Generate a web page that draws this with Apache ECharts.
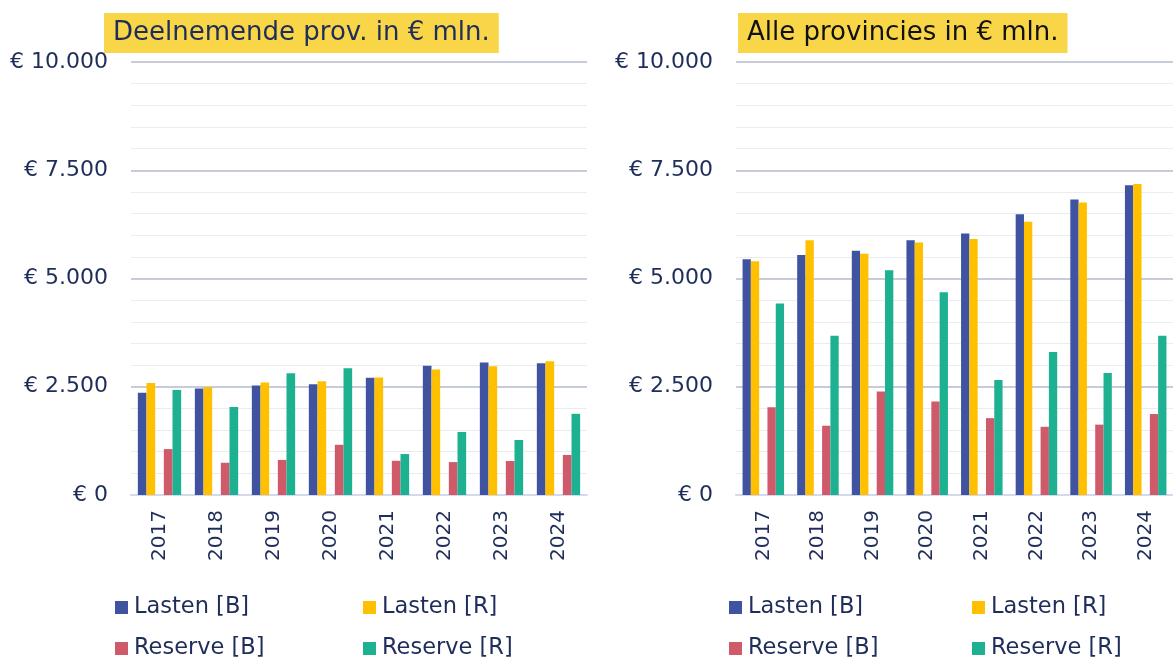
<!DOCTYPE html>
<html>
<head>
<meta charset="utf-8">
<script src="https://cdn.jsdelivr.net/npm/echarts@6/dist/echarts.min.js"></script>
<style>
html,body{margin:0;padding:0;background:#fff;}
#c{width:1173px;height:659px;}
</style>
</head>
<body>
<div id="c"></div>
<script>
const years = ['2017','2018','2019','2020','2021','2022','2023','2024'];
const seriesNames = ['Lasten [B]','Lasten [R]','Reserve [B]','Reserve [R]'];
const yTicks = [0, 2500, 5000, 7500, 10000];

// Deelnemende provincies
const leftLastenB  = [2360, 2460, 2530, 2555, 2710, 2985, 3060, 3040];
const leftLastenR  = [2585, 2490, 2600, 2625, 2715, 2900, 2975, 3090];
const leftReserveB = [1060,  745,  810, 1160,  790,  760,  785,  925];
const leftReserveR = [2425, 2030, 2810, 2925,  945, 1455, 1270, 1875];

// Alle provincies
const rightLastenB  = [5445, 5540, 5640, 5885, 6040, 6485, 6825, 7155];
const rightLastenR  = [5400, 5885, 5570, 5830, 5915, 6310, 6755, 7185];
const rightReserveB = [2025, 1600, 2390, 2160, 1775, 1575, 1625, 1870];
const rightReserveR = [4425, 3675, 5190, 4685, 2655, 3300, 2815, 3675];

const colors = ['#4053a0','#ffc000','#cf5a6a','#1db192'];
const navy = '#1e2d5a';
const FONT = 'DejaVu Sans';

function fmt(v){
  return '€ ' + String(v).replace(/\B(?=(\d{3})+(?!\d))/g, '.');
}

const chart = echarts.init(document.getElementById('c'), null, {renderer:'canvas'});

const grids = [
  {left:131, width:456, top:62, height:433},
  {left:736, width:442, top:62, height:433}
];

function xAxis(i){
  return {
    type:'category', gridIndex:i, data:years,
    axisLine:{show:true, lineStyle:{color:'#d3daee', width:2}},
    axisTick:{show:false},
    axisLabel:{rotate:90, margin:15, color:navy, fontFamily:FONT, fontSize:20}
  };
}
function yAxis(i){
  return {
    type:'value', gridIndex:i, min:yTicks[0], max:yTicks[yTicks.length-1], interval:2500,
    axisLine:{show:false}, axisTick:{show:false},
    axisLabel:{margin:23, color:navy, fontFamily:FONT, fontSize:22, formatter:fmt},
    splitLine:{show:true, lineStyle:{color:'#c6ccd9', width:2}},
    minorTick:{show:false, splitNumber:5},
    minorSplitLine:{show:true, lineStyle:{color:'#eaecf1', width:1}}
  };
}

function bars(i, arrs){
  const out = [];
  const order = [0,1,null,2,3];
  order.forEach(k=>{
    if(k===null){
      out.push({type:'bar', xAxisIndex:i, yAxisIndex:i, name:'gap'+i, data:years.map(()=>'-'), barGap:'0%', barCategoryGap:'24%', silent:true});
    } else {
      out.push({type:'bar', xAxisIndex:i, yAxisIndex:i, name:seriesNames[k], data:arrs[k],
        itemStyle:{color:colors[k]}, barGap:'0%', barCategoryGap:'24%'});
    }
  });
  return out;
}

function legend(name, left, top){
  return {
    data:[name], left:left, top:top, icon:'rect', itemWidth:13, itemHeight:13, itemGap:0,
    padding:0, selectedMode:false,
    textStyle:{color:navy, fontFamily:FONT, fontSize:22.5, padding:[0,0,0,1]}
  };
}

chart.setOption({
  animation:false,
  color:colors,
  title:[
    {text:'Deelnemende prov. in € mln.', left:104, top:13, backgroundColor:'#f9d648', padding:[7,9,7,9],
     textStyle:{color:navy, fontFamily:FONT, fontSize:26, fontWeight:'normal', lineHeight:26}},
    {text:'Alle provincies in € mln.', left:738, top:13, backgroundColor:'#f9d648', padding:[7,9,7,9],
     textStyle:{color:'#111111', fontFamily:FONT, fontSize:26, fontWeight:'normal', lineHeight:26}}
  ],
  grid:grids,
  xAxis:[xAxis(0), xAxis(1)],
  yAxis:[yAxis(0), yAxis(1)],
  legend:[
    legend('Lasten [B]', 115, 596),
    legend('Lasten [R]', 363, 596),
    legend('Reserve [B]', 115, 637),
    legend('Reserve [R]', 363, 637),
    legend('Lasten [B]', 729, 596),
    legend('Lasten [R]', 972, 596),
    legend('Reserve [B]', 729, 637),
    legend('Reserve [R]', 972, 637)
  ],
  series:[].concat(
    bars(0, [leftLastenB, leftLastenR, leftReserveB, leftReserveR]),
    bars(1, [rightLastenB, rightLastenR, rightReserveB, rightReserveR])
  )
});
</script>
</body>
</html>
